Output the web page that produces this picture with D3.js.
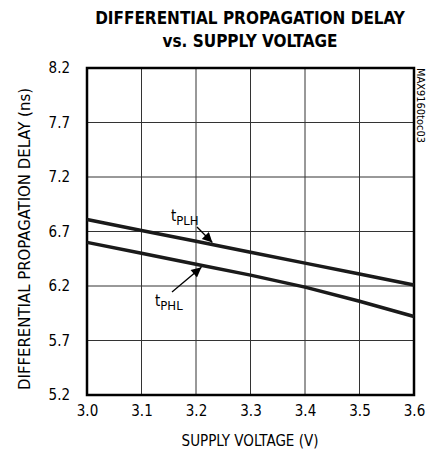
<!DOCTYPE html>
<html>
<head>
<meta charset="utf-8">
<script src="https://cdn.jsdelivr.net/npm/d3@7"></script>
<style>
  body { margin: 0; background: #fff; }
  text { font-family: "DejaVu Sans Condensed", "Liberation Sans", sans-serif; }
</style>
</head>
<body>
<script>
// data
var voltage = [3.0, 3.1, 3.2, 3.3, 3.4, 3.5, 3.6];
var tPLH = [6.81, 6.71, 6.61, 6.51, 6.41, 6.31, 6.21];
var tPHL = [6.60, 6.50, 6.40, 6.30, 6.19, 6.06, 5.92];
var xTicks = [3.0, 3.1, 3.2, 3.3, 3.4, 3.5, 3.6];
var yTicks = [5.2, 5.7, 6.2, 6.7, 7.2, 7.7, 8.2];

var width = 433, height = 452;
var plotL = 87, plotR = 414, plotT = 68, plotB = 395;

var svg = d3.select("body").append("svg")
  .attr("width", width)
  .attr("height", height);

var x = d3.scaleLinear().domain([3.0, 3.6]).range([plotL, plotR]);
var y = d3.scaleLinear().domain([5.2, 8.2]).range([plotB, plotT]);

// title
svg.append("text")
  .attr("x", 250).attr("y", 24)
  .attr("text-anchor", "middle")
  .style("font-size", "17px").style("font-weight", "bold")
  .text("DIFFERENTIAL PROPAGATION DELAY");
svg.append("text")
  .attr("x", 250).attr("y", 47)
  .attr("text-anchor", "middle")
  .style("font-size", "17px").style("font-weight", "bold")
  .text("vs. SUPPLY VOLTAGE");

// grid
svg.append("g").selectAll("line").data(xTicks.slice(1, -1)).enter().append("line")
  .attr("x1", d => x(d)).attr("x2", d => x(d))
  .attr("y1", plotT).attr("y2", plotB)
  .attr("stroke", "#333").attr("stroke-width", 1);
svg.append("g").selectAll("line").data(yTicks.slice(1, -1)).enter().append("line")
  .attr("y1", d => y(d)).attr("y2", d => y(d))
  .attr("x1", plotL).attr("x2", plotR)
  .attr("stroke", "#333").attr("stroke-width", 1);

// axes (labels only)
var xAxis = svg.append("g")
  .attr("transform", "translate(0," + plotB + ")")
  .call(d3.axisBottom(x).tickValues(xTicks).tickFormat(d3.format(".1f")).tickSize(0).tickPadding(10));
var yAxis = svg.append("g")
  .attr("transform", "translate(" + plotL + ",0)")
  .call(d3.axisLeft(y).tickValues(yTicks).tickFormat(d3.format(".1f")).tickSize(0).tickPadding(17));
[xAxis, yAxis].forEach(function(a) {
  a.select(".domain").remove();
  a.selectAll("text")
    .style("font-family", "'DejaVu Sans Condensed', sans-serif")
    .style("font-size", "15px").attr("fill", "#000");
});

// frame
svg.append("rect")
  .attr("x", plotL).attr("y", plotT)
  .attr("width", plotR - plotL).attr("height", plotB - plotT)
  .attr("fill", "none").attr("stroke", "#000").attr("stroke-width", 2.5);

// curves
var line = d3.line().x((d, i) => x(voltage[i])).y(d => y(d));
[tPLH, tPHL].forEach(function(s) {
  svg.append("path").datum(s)
    .attr("d", line)
    .attr("fill", "none").attr("stroke", "#1a1a1a").attr("stroke-width", 3.5);
});

// axis titles
svg.append("text")
  .attr("x", 250).attr("y", 446)
  .attr("text-anchor", "middle")
  .style("font-size", "15px")
  .text("SUPPLY VOLTAGE (V)");
svg.append("text")
  .attr("transform", "translate(30,239) rotate(-90)")
  .attr("text-anchor", "middle")
  .attr("textLength", 302).attr("lengthAdjust", "spacingAndGlyphs")
  .style("font-size", "15px")
  .text("DIFFERENTIAL PROPAGATION DELAY (ns)");

svg.append("text")
  .attr("transform", "translate(417,68) rotate(90)")
  .attr("textLength", 75).attr("lengthAdjust", "spacingAndGlyphs")
  .style("font-size", "10px")
  .text("MAX9160toc03");

// annotations
svg.append("defs").append("marker")
  .attr("id", "arr").attr("viewBox", "0 0 10 10")
  .attr("refX", 10).attr("refY", 5)
  .attr("markerWidth", 14).attr("markerHeight", 10)
  .attr("markerUnits", "userSpaceOnUse")
  .attr("orient", "auto")
  .append("path").attr("d", "M0,0L10,5L0,10z").attr("fill", "#000");

function label(tx, ty, sub) {
  var t = svg.append("text").attr("x", tx).attr("y", ty).style("font-size", "15px");
  t.append("tspan").text("t");
  t.append("tspan").attr("dy", 4).style("font-size", "13px").text(sub);
}
label(171, 221, "PLH");
label(155, 306, "PHL");

svg.append("line")
  .attr("x1", 197).attr("y1", 227).attr("x2", x(3.23)).attr("y2", y(6.58) - 2)
  .attr("stroke", "#000").attr("stroke-width", 1.3).attr("marker-end", "url(#arr)");
svg.append("line")
  .attr("x1", 172).attr("y1", 292).attr("x2", x(3.21)).attr("y2", y(6.39) + 2)
  .attr("stroke", "#000").attr("stroke-width", 1.3).attr("marker-end", "url(#arr)");
</script>
</body>
</html>
